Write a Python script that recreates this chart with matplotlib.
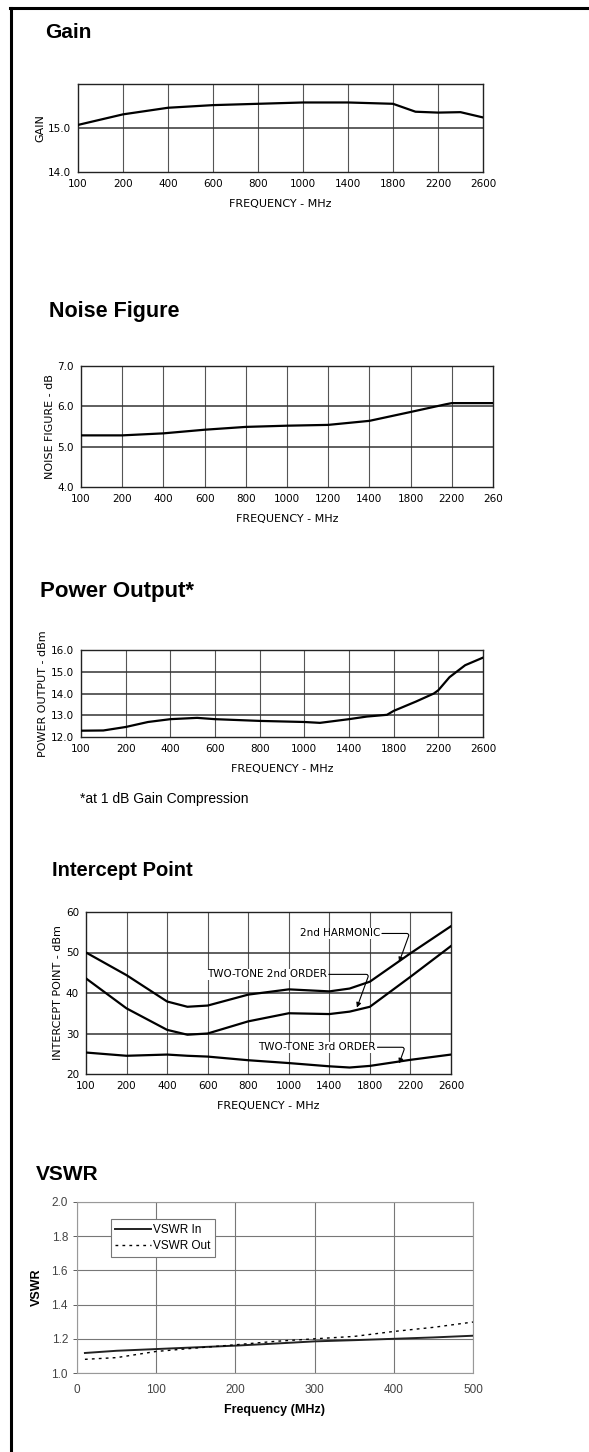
import matplotlib
matplotlib.use('Agg')
import matplotlib.pyplot as plt
from matplotlib.lines import Line2D
import logging

logging.getLogger('matplotlib.font_manager').setLevel(logging.ERROR)

W, H = 589, 1452
NARROW = ['Liberation Sans Narrow', 'DejaVu Sans']
ARIAL = ['Liberation Sans', 'DejaVu Sans']

# ---- data (x = position of the tick label) ----
gain_ticks = ['100', '200', '400', '600', '800', '1000', '1400', '1800', '2200', '2600']
gain_x = [0, 1, 2, 3, 4, 5, 6, 7, 7.5, 8, 8.5, 9]
gain_y = [15.07, 15.31, 15.46, 15.52, 15.55, 15.58, 15.58, 15.55, 15.37, 15.35, 15.36, 15.24]

noise_ticks = ['100', '200', '400', '600', '800', '1000', '1200', '1400', '1800', '2200', '260']
noise_x = [0, 1, 2, 3, 4, 5, 6, 7, 8, 8.85, 9, 10]
noise_y = [5.28, 5.28, 5.33, 5.42, 5.49, 5.52, 5.54, 5.64, 5.86, 6.05, 6.08, 6.08]

power_ticks = ['100', '200', '400', '600', '800', '1000', '1400', '1800', '2200', '2600']
power_x = [0, 0.5, 1, 1.5, 2, 2.6, 3, 4, 5, 5.35, 6, 6.4, 6.85, 7, 7.5, 7.9, 8, 8.25, 8.6, 9]
power_y = [12.29, 12.3, 12.46, 12.69, 12.82, 12.88, 12.82, 12.74, 12.69, 12.65, 12.82, 12.94,
           13.02, 13.2, 13.63, 14.0, 14.15, 14.75, 15.3, 15.65]

ip_ticks = ['100', '200', '400', '600', '800', '1000', '1400', '1800', '2200', '2600']
ip_x = [0, 1, 2, 2.5, 3, 4, 5, 6, 6.5, 7, 8, 9]
harm2 = [50.0, 44.4, 37.9, 36.6, 36.9, 39.6, 40.9, 40.4, 41.1, 42.8, 49.8, 56.5]
tt2 = [43.6, 36.2, 30.9, 29.7, 30.0, 33.0, 35.0, 34.8, 35.4, 36.6, 44.0, 51.6]
tt3 = [25.3, 24.5, 24.8, 24.5, 24.3, 23.4, 22.7, 21.9, 21.6, 22.0, 23.5, 24.8]

vswr_f = [10, 50, 100, 150, 200, 250, 300, 350, 400, 450, 500]
vswr_in = [1.117, 1.13, 1.14, 1.15, 1.16, 1.172, 1.185, 1.192, 1.2, 1.208, 1.218]
vswr_out = [1.08, 1.09, 1.126, 1.146, 1.165, 1.185, 1.2, 1.214, 1.243, 1.267, 1.298]


fig = plt.figure(figsize=(W / 100, H / 100), dpi=100)
fig.patch.set_facecolor('white')

# page border (top and left only)
fig.add_artist(Line2D([10 / W, 1], [1 - 7.5 / H, 1 - 7.5 / H], color='black', lw=2.2))
fig.add_artist(Line2D([10.5 / W, 10.5 / W], [0, 1 - 7.5 / H], color='black', lw=2.2))


def px_axes(l, t, r, b):
    return fig.add_axes([l / W, 1 - b / H, (r - l) / W, (b - t) / H])


def title(x, y, s, size=15):
    fig.text(x / W, 1 - y / H, s, fontsize=size, fontweight='bold', family=ARIAL,
             va='center', ha='left')


def old_style(ax, ticks, yticks, ylabels, ylim, hgrid):
    n = len(ticks)
    ax.set_xlim(0, n - 1)
    ax.set_ylim(*ylim)
    ax.set_xticks(range(n))
    ax.set_xticklabels(ticks, family=NARROW, fontsize=7.5)
    ax.set_yticks(yticks)
    ax.set_yticklabels(ylabels, family=NARROW, fontsize=7.5)
    ax.tick_params(length=0, pad=5)
    for i in range(1, n - 1):
        ax.axvline(i, color='#555555', lw=0.8, zorder=1)
    for v in hgrid:
        ax.axhline(v, color='#333333', lw=1.1, zorder=1)
    for s in ax.spines.values():
        s.set_linewidth(1.0)
        s.set_color('#222222')


# ---- Gain ----
title(45, 32, 'Gain', size=15)
ax = px_axes(78, 84, 483, 172)
old_style(ax, gain_ticks, [14.0, 15.0], ['14.0', '15.0'], (14.0, 16.0), [15.0])
ax.plot(gain_x, gain_y, color='black', lw=1.6, zorder=3)
ax.set_xlabel('FREQUENCY - MHz', family=NARROW, fontsize=8, labelpad=7)
ax.set_ylabel('GAIN', family=NARROW, fontsize=8, labelpad=2)

# ---- Noise Figure ----
title(49, 312, 'Noise Figure', size=15.5)
ax = px_axes(81, 366, 493, 487)
old_style(ax, noise_ticks, [4.0, 5.0, 6.0, 7.0], ['4.0', '5.0', '6.0', '7.0'], (4.0, 7.0), [5.0, 6.0])
ax.plot(noise_x, noise_y, color='black', lw=1.6, zorder=3)
ax.set_xlabel('FREQUENCY - MHz', family=NARROW, fontsize=8, labelpad=7)
ax.set_ylabel('NOISE FIGURE - dB', family=NARROW, fontsize=8, labelpad=2)

# ---- Power Output ----
title(40, 592, 'Power Output*', size=16)
ax = px_axes(81, 650, 483, 737)
old_style(ax, power_ticks, [12, 13, 14, 15, 16], ['12.0', '13.0', '14.0', '15.0', '16.0'],
          (12.0, 16.0), [13, 14, 15])
ax.plot(power_x, power_y, color='black', lw=1.6, zorder=3)
ax.set_xlabel('FREQUENCY - MHz', family=NARROW, fontsize=8, labelpad=7)
ax.set_ylabel('POWER OUTPUT - dBm', family=NARROW, fontsize=8, labelpad=2)
fig.text(80 / W, 1 - 799 / H, '*at 1 dB Gain Compression', fontsize=10, family=ARIAL,
         va='center', ha='left')

# ---- Intercept Point ----
title(52, 870, 'Intercept Point', size=14.5)
ax = px_axes(86, 912, 451, 1074)
old_style(ax, ip_ticks, [20, 30, 40, 50, 60], ['20', '30', '40', '50', '60'], (20, 60), [30, 40, 50])
for ys in (harm2, tt2, tt3):
    ax.plot(ip_x, ys, color='black', lw=1.6, zorder=3)
ax.set_xlabel('FREQUENCY - MHz', family=NARROW, fontsize=8, labelpad=7)
ax.set_ylabel('INTERCEPT POINT - dBm', family=NARROW, fontsize=8, labelpad=2)
arrow = dict(arrowstyle='-|>', color='black', lw=0.8, mutation_scale=7,
             connectionstyle='angle,angleA=0,angleB=70,rad=3', shrinkA=1, shrinkB=0)
for s, txt_xy, tip in [('2nd HARMONIC', (7.25, 54.7), (7.72, 47.6)),
                       ('TWO-TONE 2nd ORDER', (5.94, 44.6), (6.68, 36.4)),
                       ('TWO-TONE 3rd ORDER', (7.14, 26.6), (7.72, 22.6))]:
    ax.annotate(s, xy=tip, xytext=txt_xy, ha='right', va='center', family=NARROW,
                fontsize=7.5, arrowprops=arrow, zorder=4,
                bbox=dict(boxstyle='square,pad=0.05', fc='white', ec='none'))

# ---- VSWR ----
title(36, 1175, 'VSWR', size=15)
ax = px_axes(77, 1202, 473, 1373)
ax.plot(vswr_f, vswr_in, color='#222222', lw=1.4, label='VSWR In', zorder=3)
ax.plot(vswr_f, vswr_out, color='black', lw=1.0, ls=(0, (2, 3)), label='VSWR Out', zorder=3)
ax.set_xlim(0, 500)
ax.set_ylim(1.0, 2.0)
ax.set_xticks([0, 100, 200, 300, 400, 500])
ax.set_yticks([1.0, 1.2, 1.4, 1.6, 1.8, 2.0])
ax.set_yticklabels(['1.0', '1.2', '1.4', '1.6', '1.8', '2.0'])
ax.grid(True, color='#777777', lw=0.8)
ax.set_axisbelow(True)
ax.tick_params(labelsize=8.5, colors='#444444', length=3, width=0.6)
ax.tick_params(axis='x', length=0, pad=8)
for lab in ax.get_xticklabels() + ax.get_yticklabels():
    lab.set_family(ARIAL)
for s in ax.spines.values():
    s.set_color('#999999')
    s.set_linewidth(0.8)
ax.set_xlabel('Frequency (MHz)', family=ARIAL, fontweight='bold', fontsize=9, labelpad=6)
ax.set_ylabel('VSWR', family=ARIAL, fontweight='bold', fontsize=9, labelpad=6)
leg = ax.legend(loc='upper left', bbox_to_anchor=(0.07, 0.935), fancybox=False,
                framealpha=1, edgecolor='#777777', prop={'family': ARIAL, 'size': 8.5},
                handlelength=3, handletextpad=0.2, borderpad=0.4, labelspacing=0.4)
leg.get_frame().set_linewidth(0.8)

fig.savefig('out.png', dpi=100, facecolor='white')
